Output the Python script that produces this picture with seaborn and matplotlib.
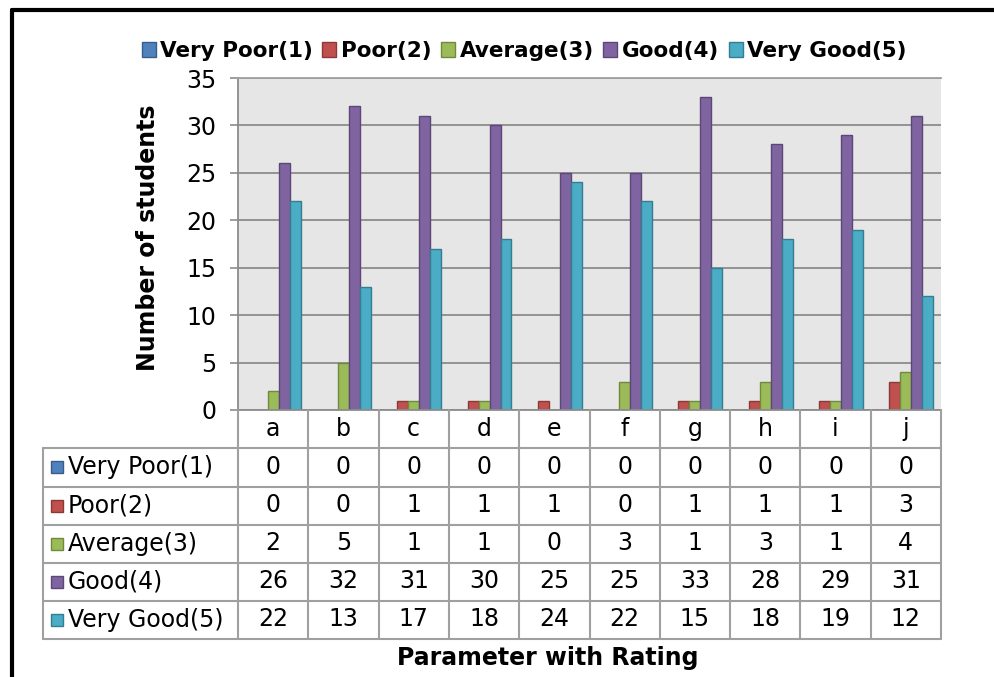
import matplotlib
matplotlib.use("Agg")
import matplotlib.pyplot as plt
import matplotlib.transforms as mtransforms
from matplotlib.patches import Patch, Rectangle
from matplotlib.lines import Line2D
import seaborn as sns
import pandas as pd

categories = ["a", "b", "c", "d", "e", "f", "g", "h", "i", "j"]
series = ["Very Poor(1)", "Poor(2)", "Average(3)", "Good(4)", "Very Good(5)"]
very_poor = [0, 0, 0, 0, 0, 0, 0, 0, 0, 0]
poor = [0, 0, 1, 1, 1, 0, 1, 1, 1, 3]
average = [2, 5, 1, 1, 0, 3, 1, 3, 1, 4]
good = [26, 32, 31, 30, 25, 25, 33, 28, 29, 31]
very_good = [22, 13, 17, 18, 24, 22, 15, 18, 19, 12]
values = [very_poor, poor, average, good, very_good]

colors = ["#4F81BD", "#C0504D", "#9BBB59", "#8064A2", "#4BACC6"]
edges = ["#385D8A", "#8C3836", "#71893F", "#5C4776", "#357D91"]

rows = []
for s, vals in zip(series, values):
    for c, v in zip(categories, vals):
        rows.append({"Parameter": c, "Rating": s, "Count": v})
df = pd.DataFrame(rows)

sns.set_theme(style="white")
plt.rcParams["font.family"] = ["DejaVu Sans"]
plt.rcParams["text.color"] = "black"
plt.rcParams["axes.labelcolor"] = "black"
plt.rcParams["xtick.color"] = "black"
plt.rcParams["ytick.color"] = "black"

W, H = 995, 677
fig = plt.figure(figsize=(W / 100, H / 100), dpi=100)
fig.patch.set_facecolor("white")

def fx(x):
    return x / W

def fy(y):
    return 1 - y / H

FS = 17
ax_l, ax_r, ax_t, ax_b = 238, 941, 78, 410
ax = fig.add_axes([fx(ax_l), fy(ax_b), fx(ax_r) - fx(ax_l), fy(ax_t) - fy(ax_b)])

sns.barplot(data=df, x="Parameter", y="Count", hue="Rating", order=categories,
            hue_order=series, palette=colors, width=0.78, ax=ax, legend=False,
            saturation=1, linewidth=1)
for cont, ec in zip(ax.containers, edges):
    for p in cont:
        p.set_edgecolor(ec)
        if p.get_height() == 0:
            p.set_linewidth(0)
            p.set_visible(False)

ax.set_facecolor("#E6E6E6")
ax.set_ylim(0, 35)
ax.set_xlim(-0.5, len(categories) - 0.5)
ax.set_yticks(range(0, 36, 5))
ax.yaxis.grid(True, color="#8C8C8C", linewidth=1.3)
ax.set_axisbelow(True)
ax.set_xticks([])
ax.set_xlabel("")
ax.set_ylabel("")
ax.tick_params(axis="y", labelsize=FS, left=True, length=5.5, width=1.2, color="#8C8C8C",
               pad=10, labelcolor="black")
ax.spines["top"].set_color("#A0A0A0")
ax.spines["top"].set_linewidth(1.3)
ax.spines["left"].set_color("#8C8C8C")
ax.spines["left"].set_linewidth(1.3)
ax.spines["bottom"].set_color("#8C8C8C")
ax.spines["bottom"].set_linewidth(1.3)
ax.spines["right"].set_visible(False)

fig.text(fx(148), fy(237.5), "Number of students", rotation=90, ha="center", va="center",
         fontsize=FS, fontweight="bold")

# Data table beneath the axes
tr = mtransforms.blended_transform_factory(ax.transData, fig.transFigure)
lc = "#A0A0A0"
row_tops = [410, 448, 486.5, 524.5, 562.5, 600.5, 638.5]
n = len(categories)
for i, yy in enumerate(row_tops):
    if i == 0:
        continue
    fig.add_artist(Line2D([fx(43), fx(ax_r)], [fy(yy), fy(yy)], color=lc, lw=1.5))
for k in range(n + 1):
    xk = k - 0.5
    fig.add_artist(Line2D([xk, xk], [fy(410), fy(638.5)], transform=tr, color=lc, lw=1.5))
fig.add_artist(Line2D([fx(43), fx(43)], [fy(448), fy(638.5)], color=lc, lw=1.5))

for k, c in enumerate(categories):
    fig.text(k, fy(429), c, transform=tr, ha="center", va="center", fontsize=FS)
for r, (s, vals) in enumerate(zip(series, values)):
    yc = (row_tops[r + 1] + row_tops[r + 2]) / 2
    fig.add_artist(Rectangle((fx(51), fy(yc + 6)), fx(12), 12 / H,
                             facecolor=colors[r], edgecolor=edges[r], lw=1))
    fig.text(fx(68), fy(yc), s, ha="left", va="center", fontsize=FS)
    for k, v in enumerate(vals):
        fig.text(k, fy(yc), str(v), transform=tr, ha="center", va="center", fontsize=FS)

fig.text(fx(548), fy(658), "Parameter with Rating", ha="center", va="center",
         fontsize=FS, fontweight="bold")

handles = [Patch(facecolor=c, edgecolor=e, label=s) for c, e, s in zip(colors, edges, series)]
fig.legend(handles=handles, loc="center", bbox_to_anchor=(fx(524), fy(51)), ncol=5,
           frameon=False, prop={"size": 15.5, "weight": "bold"}, handlelength=0.65,
           handleheight=0.65, handletextpad=0.2, columnspacing=0.45, borderaxespad=0)

# outer black border (left and top)
fig.add_artist(Line2D([fx(12), fx(12)], [fy(9.5), 0], color="black", lw=3))
fig.add_artist(Line2D([fx(12), 1], [fy(9.5), fy(9.5)], color="black", lw=3))

fig.savefig("out.png", dpi=100)
